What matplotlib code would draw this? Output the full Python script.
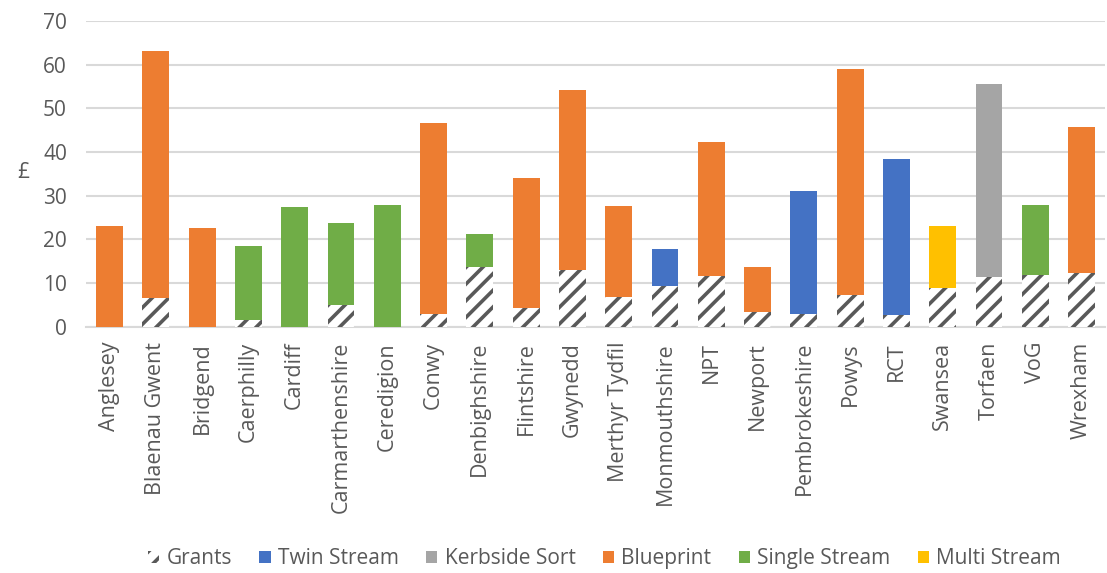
import numpy as np
import matplotlib
matplotlib.use("Agg")
import matplotlib.pyplot as plt
from matplotlib.patches import Patch

councils = ['Anglesey', 'Blaenau Gwent', 'Bridgend', 'Caerphilly', 'Cardiff',
            'Carmarthenshire', 'Ceredigion', 'Conwy', 'Denbighshire', 'Flintshire',
            'Gwynedd', 'Merthyr Tydfil', 'Monmouthshire', 'NPT', 'Newport',
            'Pembrokeshire', 'Powys', 'RCT', 'Swansea', 'Torfaen', 'VoG', 'Wrexham']
totals = [23.1, 63.1, 22.5, 18.5, 27.5, 23.8, 27.8, 46.7, 21.2, 34.0, 54.2,
          27.7, 17.9, 42.3, 13.7, 31.1, 59.1, 38.4, 23.1, 55.7, 27.8, 45.8]
grants = [0, 6.6, 0, 1.5, 0, 5.0, 0, 2.8, 13.7, 4.2, 13.0,
          6.9, 9.4, 11.6, 3.4, 2.9, 7.3, 2.7, 8.8, 11.4, 11.8, 12.2]
systems = ['Blueprint', 'Blueprint', 'Blueprint', 'Single Stream', 'Single Stream',
           'Single Stream', 'Single Stream', 'Blueprint', 'Single Stream', 'Blueprint',
           'Blueprint', 'Blueprint', 'Twin Stream', 'Blueprint', 'Blueprint',
           'Twin Stream', 'Blueprint', 'Twin Stream', 'Multi Stream', 'Kerbside Sort',
           'Single Stream', 'Blueprint']
legend_order = ['Twin Stream', 'Kerbside Sort', 'Blueprint', 'Single Stream', 'Multi Stream']

colours = {'Twin Stream': '#4472C4', 'Kerbside Sort': '#A5A5A5', 'Blueprint': '#ED7D31',
           'Single Stream': '#70AD47', 'Multi Stream': '#FFC000'}

plt.rcParams['font.family'] = ['Open Sans', 'DejaVu Sans']
plt.rcParams['hatch.linewidth'] = 2.6
grey = '#595959'
fs = 15

fig = plt.figure(figsize=(11.07, 5.73), dpi=100)
ax = fig.add_axes([0.078, 0.43, 0.92, 0.533])

x = np.arange(len(councils))
tops = np.array(totals) - np.array(grants)
ax.bar(x, grants, width=0.58, color='white', edgecolor=grey, hatch='//',
       linewidth=0, zorder=3)
ax.bar(x, tops, bottom=grants, width=0.58,
       color=[colours[s] for s in systems], linewidth=0, zorder=3)

ax.set_xlim(-0.5, len(councils) - 0.5)
ax.set_ylim(0, 70)
ax.set_yticks(range(0, 71, 10))
ax.yaxis.grid(True, color='#D9D9D9', linewidth=1.5, zorder=0)
ax.set_axisbelow(True)
for s in ['top', 'right', 'left']:
    ax.spines[s].set_visible(False)
ax.spines['bottom'].set_color('#D9D9D9')
ax.spines['bottom'].set_linewidth(1.5)
ax.tick_params(axis='both', length=0, colors=grey, labelsize=fs)
ax.tick_params(axis='y', pad=14)
ax.tick_params(axis='x', pad=11)
ax.set_xticks(x)
ax.set_xticklabels(councils, rotation=90, fontsize=15.5, color=grey)
ax.set_ylabel('£', rotation=0, fontsize=fs, color=grey)
ax.yaxis.set_label_coords(-0.062, 0.47)

handles = [Patch(facecolor='white', edgecolor=grey, hatch='//', linewidth=0)]
handles += [Patch(facecolor=colours[k], linewidth=0) for k in legend_order]
labels = ['Grants'] + legend_order
fig.legend(handles, labels, loc='center', bbox_to_anchor=(0.546, 0.025), ncol=6,
           frameon=False, fontsize=fs, handlelength=0.55, handleheight=0.55,
           handletextpad=0.35, columnspacing=1.3, labelcolor=grey)

fig.savefig('out.png', dpi=100)
